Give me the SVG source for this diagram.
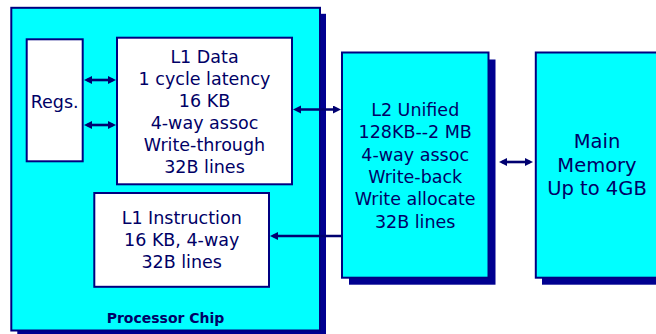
<svg xmlns="http://www.w3.org/2000/svg" width="656" height="334" viewBox="0 0 656 334">
  <style>
    .shadow { fill: #000090; stroke: none; }
    .block { fill: #00ffff; stroke: #000080; stroke-width: 2; }
    .cache { fill: #ffffff; stroke: #000080; stroke-width: 2; }
    .label { font-family: "DejaVu Sans", "Liberation Sans", sans-serif; font-size: 17.5px; fill: #000066; text-anchor: middle; }
    .big { font-size: 19.5px; }
    .chip { font-family: "DejaVu Sans", "Liberation Sans", sans-serif; font-size: 14px; font-weight: bold; fill: #000066; text-anchor: middle; }
    .wire { stroke: #000070; stroke-width: 2.6; fill: none; }
  </style>
  <defs>
    <marker id="head" markerUnits="userSpaceOnUse" markerWidth="9" markerHeight="9" refX="5" refY="4" orient="auto-start-reverse">
      <path d="M0,0 L8,4 L0,8 z" fill="#000070"/>
    </marker>
  </defs>

  <rect width="656" height="334" fill="#ffffff"/>

  <!-- processor chip enclosure -->
  <g id="processor-chip">
    <rect class="shadow" x="17.3" y="13.8" width="308.7" height="330"/>
    <rect class="block" x="11.3" y="7.8" width="308.7" height="322.7"/>
    <text class="chip" x="165.5" y="322.7">Processor Chip</text>
  </g>

  <g id="regs">
    <rect class="cache" x="26.7" y="39.3" width="56" height="122"/>
    <text class="label" x="54.7" y="108.3">Regs.</text>
  </g>

  <g id="l1-data">
    <rect class="cache" x="117" y="37.7" width="175" height="146.6"/>
    <text class="label" x="204.5" y="62.5">L1 Data</text>
    <text class="label" x="204.5" y="84.6">1 cycle latency</text>
    <text class="label" x="204.5" y="106.7">16 KB</text>
    <text class="label" x="204.5" y="128.8">4-way assoc</text>
    <text class="label" x="204.5" y="150.9">Write-through</text>
    <text class="label" x="204.5" y="173">32B lines</text>
  </g>

  <g id="l1-instruction">
    <rect class="cache" x="94.3" y="193" width="174.7" height="93.8"/>
    <text class="label" x="181.7" y="224">L1 Instruction</text>
    <text class="label" x="181.7" y="246.1">16 KB, 4-way</text>
    <text class="label" x="181.7" y="268.2">32B lines</text>
  </g>

  <g id="l2-unified">
    <rect class="shadow" x="349" y="59.5" width="146.5" height="225.2"/>
    <rect class="block" x="342" y="52.5" width="146.5" height="225.2"/>
    <text class="label" x="415.2" y="116">L2 Unified</text>
    <text class="label" x="415.2" y="138.3">128KB--2 MB</text>
    <text class="label" x="415.2" y="160.6">4-way assoc</text>
    <text class="label" x="415.2" y="182.9">Write-back</text>
    <text class="label" x="415.2" y="205.2">Write allocate</text>
    <text class="label" x="415.2" y="227.5">32B lines</text>
  </g>

  <g id="main-memory">
    <rect class="shadow" x="542" y="59.5" width="130" height="225.2"/>
    <rect class="block" x="535.8" y="52.5" width="130" height="225.2"/>
    <text class="label big" x="597" y="148">Main</text>
    <text class="label big" x="597" y="171.7">Memory</text>
    <text class="label big" x="597" y="195.4">Up to 4GB</text>
  </g>

  <!-- data paths between the blocks -->
  <g id="connectors">
    <line class="wire" x1="87" y1="80" x2="113" y2="80" marker-start="url(#head)" marker-end="url(#head)"/>
    <line class="wire" x1="87" y1="125" x2="113" y2="125" marker-start="url(#head)" marker-end="url(#head)"/>
    <line class="wire" x1="296" y1="109.5" x2="338" y2="109.5" marker-start="url(#head)" marker-end="url(#head)"/>
    <line class="wire" x1="341" y1="236" x2="273" y2="236" marker-end="url(#head)"/>
    <line class="wire" x1="502" y1="162" x2="530" y2="162" marker-start="url(#head)" marker-end="url(#head)"/>
  </g>
</svg>
